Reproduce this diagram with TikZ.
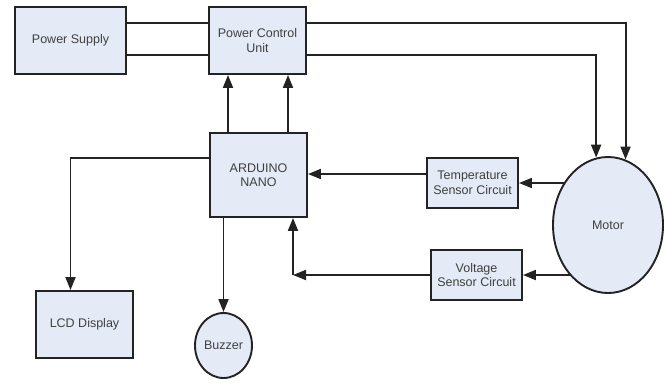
\documentclass[tikz,border=0pt]{standalone}
\usepackage{fontspec}
\setmainfont{Liberation Sans}
\usepackage{xcolor}
\usepackage{tikz}
\usetikzlibrary{arrows.meta,positioning,shapes.geometric,calc}
\definecolor{azulclaro}{RGB}{228,234,246}
\definecolor{borda}{RGB}{35,35,35}
\tikzset{
    bloco/.style={
        rectangle,
        draw=borda,
        line width=1.9pt,
        fill=azulclaro,
        align=center,
        inner sep=2pt
    },
    circulo/.style={
        ellipse,
        draw=borda,
        line width=1.9pt,
        fill=azulclaro,
        align=center,
        inner sep=0pt
    },
    linha/.style={line width=1.9pt, draw=borda},
    fluxo/.style={linha, -{Triangle[length=13pt,width=10pt]}}
}

\begin{document}
\begin{tikzpicture}[
        x=1pt, y=-1pt,
        every node/.style={font=\fontsize{12.5}{14.5}\selectfont, text=black!75}
    ]
        \useasboundingbox (0,0) rectangle (668,383);
        \node[bloco, minimum width=111pt, minimum height=67pt] (fonte) at (70.5,40.5) {Power Supply};
        \node[bloco, minimum width=97pt, minimum height=67pt] (controle) at (257.5,40.5) {Power Control\\Unit};
        \node[bloco, minimum width=97pt, minimum height=84pt] (arduino) at (258.5,175) {ARDUINO\\NANO};
        \node[bloco, minimum width=91pt, minimum height=50pt] (temp) at (472.5,183) {Temperature\\Sensor Circuit};
        \node[bloco, minimum width=91pt, minimum height=50pt] (tensao) at (476.5,275) {Voltage\\Sensor Circuit};
        \node[circulo, minimum width=110pt, minimum height=136pt] (motor) at (608,225) {Motor};
        \node[bloco, minimum width=97pt, minimum height=67pt] (lcd) at (84.5,324.5) {LCD Display};
        \node[circulo, minimum width=57pt, minimum height=65pt] (buzzer) at (223.5,345.5) {Buzzer};
        \coordinate (canto) at ([xshift=34.5pt]arduino.south |- tensao.west);

        \draw[linha] ([yshift=17.5pt]fonte.east) -- ([yshift=17.5pt]controle.west);
        \draw[linha] ([yshift=-14.5pt]fonte.east) -- ([yshift=-14.5pt]controle.west);
        \draw[fluxo] ([yshift=17.5pt]controle.east) -| (motor.75);
        \draw[fluxo] ([yshift=-14.5pt]controle.east) -| (motor.100);
        \draw[fluxo] ([xshift=-30.5pt]arduino.north) -- ([xshift=-29.5pt]controle.south);
        \draw[fluxo] ([xshift=29.5pt]arduino.north) -- ([xshift=30.5pt]controle.south);
        \draw[fluxo] ([yshift=9pt]temp.west) -- ([yshift=9pt]temp.west -| arduino.east);
        \draw[fluxo] (temp.east -| motor.135) -- (temp.east);
        \draw[fluxo] (tensao.east -| motor.233) -- (tensao.east);
        \draw[fluxo] (tensao.west) -- (canto);
        \draw[fluxo] (canto) -- (canto |- arduino.south);
        \draw[fluxo] ([yshift=17pt]arduino.west) -| ([xshift=-14pt]lcd.north);
        \draw[fluxo] (arduino.south -| buzzer.north) -- (buzzer.north);
    \end{tikzpicture}
\end{document}
